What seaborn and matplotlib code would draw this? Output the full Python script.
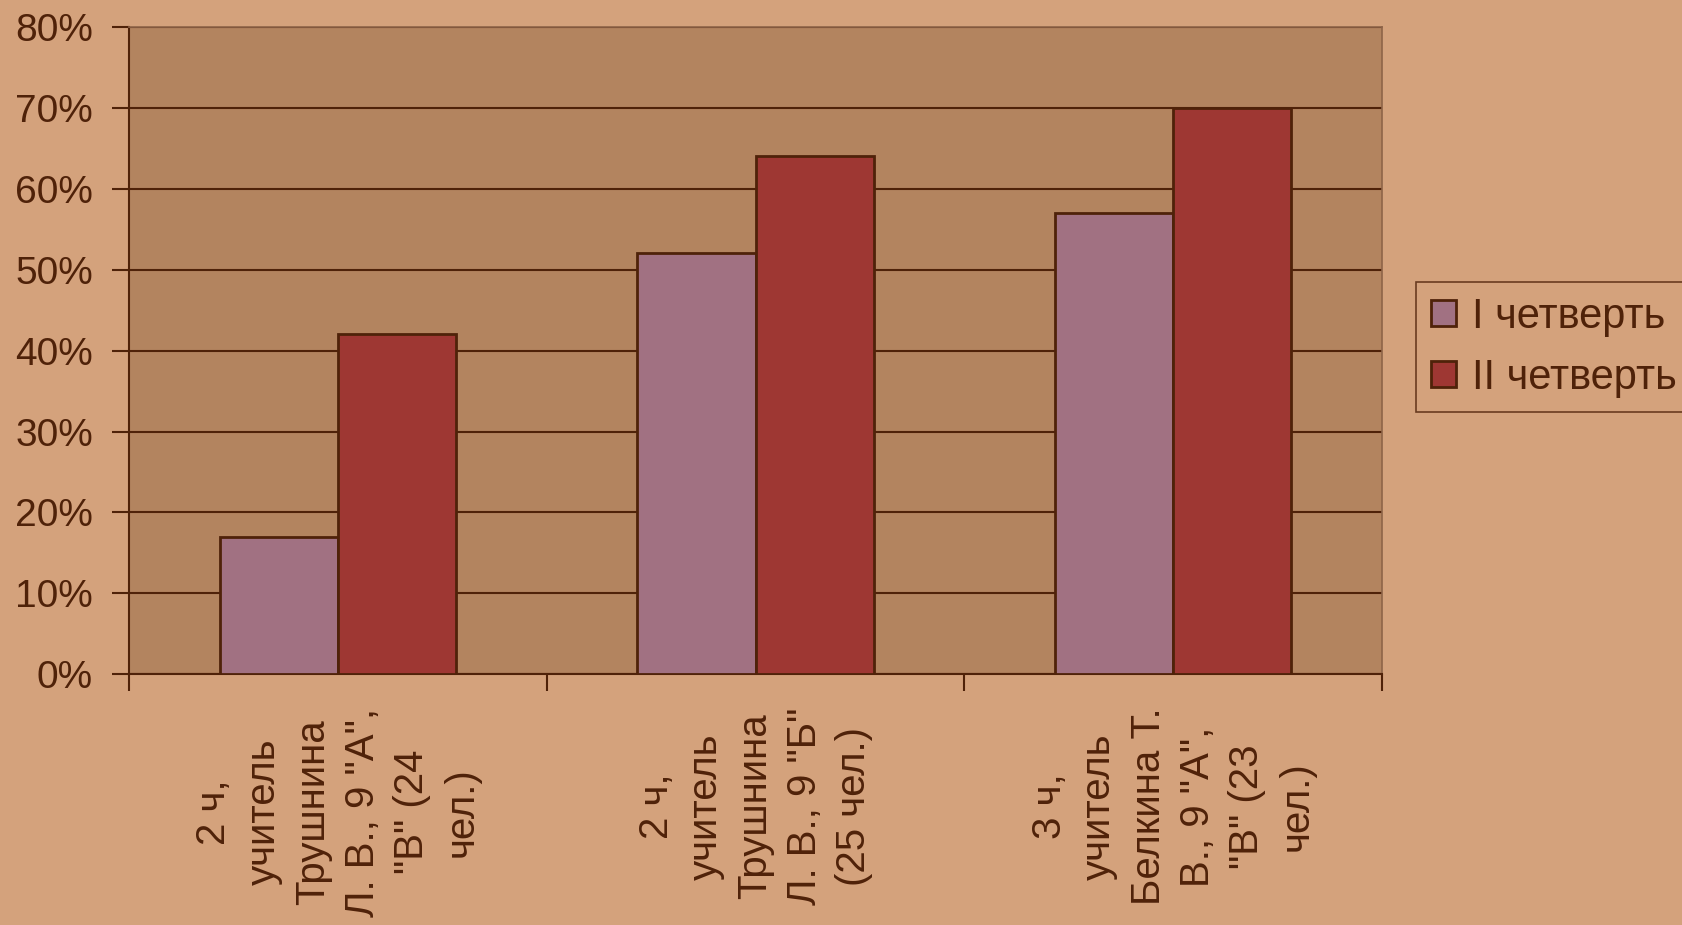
import matplotlib
matplotlib.use('Agg')
import matplotlib.pyplot as plt
import seaborn as sns
import pandas as pd
from matplotlib.ticker import PercentFormatter, FixedLocator

# data
groups = [
    '2 ч,\nучитель\nТрушнина\nЛ. В., 9 "А",\n"В" (24\nчел.)',
    '2 ч,\nучитель\nТрушнина\nЛ. В., 9 "Б"\n(25 чел.)',
    '3 ч,\nучитель\nБелкина Т.\nВ., 9 "А",\n"В" (23\nчел.)',
]
series = ['I четверть', 'II четверть']
q1_values = [0.17, 0.52, 0.57]
q2_values = [0.42, 0.64, 0.70]

df = pd.DataFrame({
    'group': groups * 2,
    'quarter': [series[0]] * 3 + [series[1]] * 3,
    'value': q1_values + q2_values,
})

bg = '#d4a27c'
plot_bg = '#b3845f'
ink = '#4f2209'
colors = {'I четверть': '#a17182', 'II четверть': '#9e3733'}

sns.set_style('white')
plt.rcParams['font.family'] = ['Liberation Sans', 'DejaVu Sans']

fig = plt.figure(figsize=(16.82, 9.25), dpi=100, facecolor=bg)
ax = fig.add_axes([0.0767, 0.271, 0.745, 0.700])
ax.set_facecolor(plot_bg)

sns.barplot(data=df, x='group', y='value', hue='quarter', palette=colors,
            width=0.566, edgecolor=ink, linewidth=2, saturation=1,
            legend=False, ax=ax, zorder=3)

ax.set_xlim(-0.5, 2.5)
ax.set_ylim(0, 0.8)
ax.yaxis.set_major_formatter(PercentFormatter(1.0, decimals=0))
ax.set_yticks([i / 10 for i in range(9)])
ax.yaxis.grid(True, color=ink, linewidth=1.5, zorder=1)
ax.set_axisbelow(True)

ax.set_xlabel('')
ax.set_ylabel('')
ax.set_xticks(range(3))
ax.set_xticklabels(groups, rotation=90, ha='center', va='top',
                   multialignment='center', fontsize=29, color=ink,
                   linespacing=1.38)
ax.tick_params(axis='x', which='major', length=0, pad=24)
ax.xaxis.set_minor_locator(FixedLocator([-0.5, 0.5, 1.5, 2.5]))
ax.tick_params(axis='x', which='minor', length=12, width=1.5, color=ink,
               direction='out', bottom=True)
ax.tick_params(axis='y', length=12, width=1.5, color=ink, labelsize=28,
               labelcolor=ink, pad=14, left=True)

for side in ['left', 'bottom']:
    ax.spines[side].set_color(ink)
    ax.spines[side].set_linewidth(1.5)
for side in ['top', 'right']:
    ax.spines[side].set_color('#8e6448')
    ax.spines[side].set_linewidth(1.2)

handles = [plt.Rectangle((0, 0), 1, 1, facecolor=colors[s], edgecolor=ink,
                         linewidth=2) for s in series]
leg = fig.legend(handles, series, loc='upper left',
                 bbox_to_anchor=(0.842, 0.695), borderaxespad=0,
                 fontsize=30, frameon=True,
                 fancybox=False, handlelength=0.6, handleheight=0.6,
                 handletextpad=0.4, labelspacing=0.5, borderpad=0.35)
leg.get_frame().set_facecolor(bg)
leg.get_frame().set_edgecolor(ink)
leg.get_frame().set_linewidth(1.2)
for t in leg.get_texts():
    t.set_color(ink)

fig.savefig('out.png', dpi=100, facecolor=bg)
